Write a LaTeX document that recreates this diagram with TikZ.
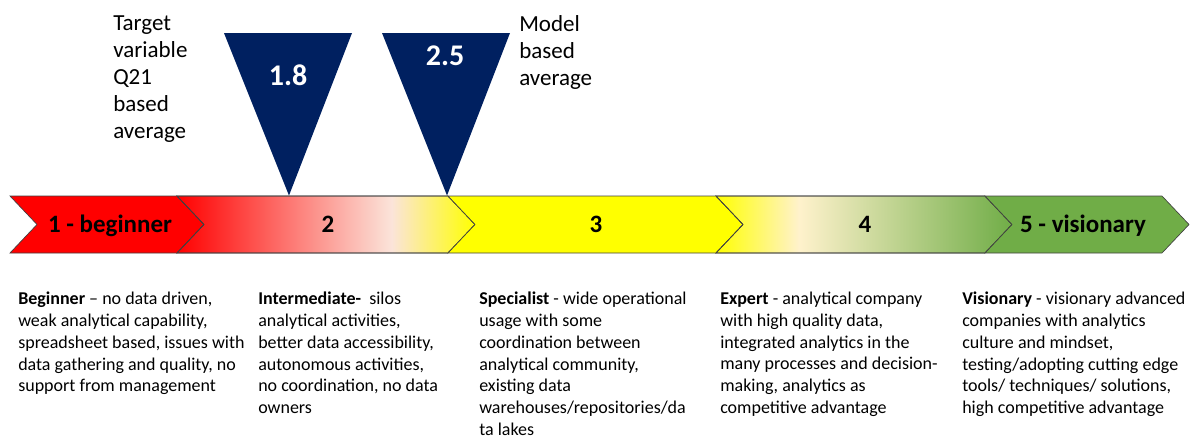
\documentclass[tikz,border=0pt]{standalone}
\usepackage{fontspec}
\setmainfont{Carlito}
\definecolor{stred}{HTML}{FF0000}
\definecolor{stpink}{HTML}{FBE4DA}
\definecolor{styellow}{HTML}{FFFF00}
\definecolor{stcream}{HTML}{FFF2CC}
\definecolor{stgreen}{HTML}{70AD47}
\definecolor{navy}{HTML}{002060}
\pgfdeclarehorizontalshading{stagetwo}{100bp}{color(0bp)=(stred); color(25bp)=(stred); color(61bp)=(stpink); color(75bp)=(styellow); color(100bp)=(styellow)}
\pgfdeclarehorizontalshading{stagefour}{100bp}{color(0bp)=(styellow); color(25bp)=(styellow); color(39bp)=(stcream); color(75bp)=(stgreen); color(100bp)=(stgreen)}
\tikzset{
  chev/.style={draw=black!75, line width=0.5pt, line join=miter},
  stagelabel/.style={font=\fontsize{18.75pt}{22pt}\selectfont\bfseries, text=black, inner sep=0pt, anchor=base},
  marker/.style={fill=navy, draw=none},
  markerval/.style={font=\fontsize{22.5pt}{26pt}\selectfont\bfseries, text=white, inner sep=0pt, anchor=base},
  toplabel/.style={font=\fontsize{17.25pt}{20.25pt}\selectfont, text=black, inner sep=0pt, anchor=north west, align=left},
  desc/.style={font=\fontsize{13.5pt}{16.3pt}\selectfont, text=black, inner sep=0pt, anchor=north west, align=left}
}
\begin{document}
\begin{tikzpicture}[x=0.75pt, y=-0.75pt]
\useasboundingbox (0,0) rectangle (1190,437);
% chevrons
\path[chev, fill=stred] (10,196) -- (177,196) -- (204,224.5) -- (177,253) -- (10,253) -- (37,224.5) -- cycle;
\path[chev, shading=stagetwo] (177,196) -- (448,196) -- (475,224.5) -- (448,253) -- (177,253) -- (204,224.5) -- cycle;
\draw[chev] (177,196) -- (448,196) -- (475,224.5) -- (448,253) -- (177,253) -- (204,224.5) -- cycle;
\path[chev, fill=styellow] (448,196) -- (716,196) -- (743,224.5) -- (716,253) -- (448,253) -- (475,224.5) -- cycle;
\path[chev, shading=stagefour] (716,196) -- (985,196) -- (1012,224.5) -- (985,253) -- (716,253) -- (743,224.5) -- cycle;
\draw[chev] (716,196) -- (985,196) -- (1012,224.5) -- (985,253) -- (716,253) -- (743,224.5) -- cycle;
\path[chev, fill=stgreen] (985,196) -- (1162,196) -- (1189,224.5) -- (1162,253) -- (985,253) -- (1012,224.5) -- cycle;
% stage labels
\node[stagelabel] (s1) at (110,232) {1 - beginner};
\node[stagelabel] (s2) at (328,232) {2};
\node[stagelabel] (s3) at (596,232) {3};
\node[stagelabel] (s4) at (865,232) {4};
\node[stagelabel] (s5) at (1083,232) {5 - visionary};
% markers
\fill[marker] (224,33) -- (352,33) -- (289,195.5) -- cycle;
\fill[marker] (382,33) -- (510,33) -- (447,195.5) -- cycle;
\node[markerval] (m1) at (288,85) {1.8};
\node[markerval] (m2) at (445,65) {2.5};
% top labels
\node[toplabel] (t1) at (113,15) {Target\\variable\\Q21\\based\\average};
\node[toplabel] (t2) at (519,15) {Model\\based\\average};
% descriptions
\node[desc] (d1) at (18,292) {\textbf{Beginner} – no data driven,\\weak analytical capability,\\spreadsheet based, issues with\\data gathering and quality, no\\support from management};
\node[desc] (d2) at (258,292) {\textbf{Intermediate-}\ \ silos\\analytical activities,\\better data accessibility,\\autonomous activities,\\no coordination, no data\\owners};
\node[desc] (d3) at (479,292) {\textbf{Specialist} - wide operational\\usage with some\\coordination between\\analytical community,\\existing data\\warehouses/repositories/da\\ta lakes};
\node[desc] (d4) at (720,292) {\textbf{Expert} - analytical company\\with high quality data,\\integrated analytics in the\\many processes and decision-\\making, analytics as\\competitive advantage};
\node[desc] (d5) at (962,292) {\textbf{Visionary} - visionary advanced\\companies with analytics\\culture and mindset,\\testing/adopting cutting edge\\tools/ techniques/ solutions,\\high competitive advantage};
\end{tikzpicture}
\end{document}
